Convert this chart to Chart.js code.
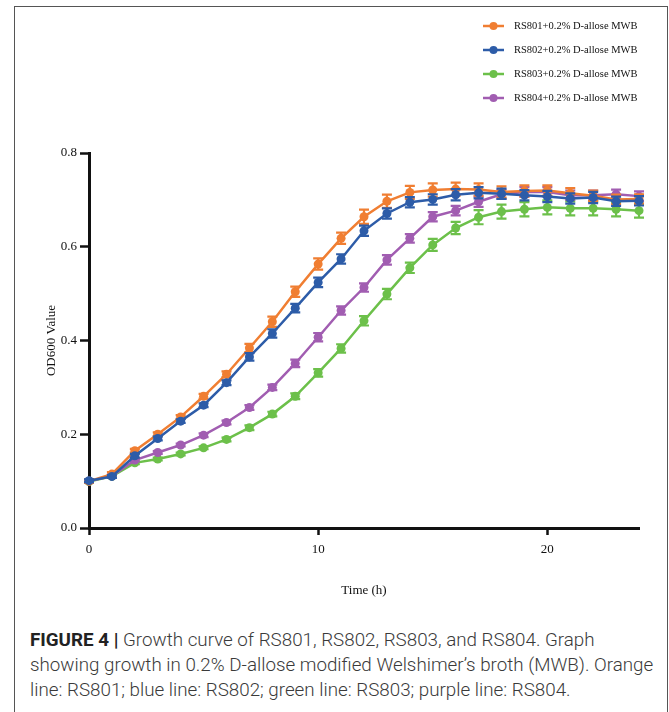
<!DOCTYPE html>
<html>
<head>
<meta charset="utf-8">
<script src="https://cdn.jsdelivr.net/npm/chart.js@4/dist/chart.umd.min.js"></script>
<style>
    html, body { margin: 0; padding: 0; background: #fff; width: 669px; height: 712px; overflow: hidden; }
    #frame {
        position: absolute; left: 14px; top: 6px; width: 654px; height: 720px;
        border: 1px solid #555; border-bottom: none; box-sizing: border-box;
    }
    #chartBox { position: absolute; left: 14px; top: 6px; width: 654px; height: 602px; }
    #caption {
        position: absolute; left: 30px; top: 628px;
        font-family: "Roboto", "Liberation Sans", sans-serif; font-size: 18.8px; font-weight: 300;
        line-height: 25px; color: #3a3a3a; white-space: nowrap;
    }
    #caption b { color: #222; font-weight: 700; }
</style>
</head>
<body>
<div id="frame"></div>
<div id="chartBox"><canvas id="growthChart" width="654" height="602"></canvas></div>
<div id="caption">
    <div><b>FIGURE 4 |</b> Growth curve of RS801, RS802, RS803, and RS804. Graph</div>
    <div>showing growth in 0.2% D-allose modified Welshimer’s broth (MWB). Orange</div>
    <div>line: RS801; blue line: RS802; green line: RS803; purple line: RS804.</div>
</div>
<script>
// Time points (h)
const hours = [0, 1, 2, 3, 4, 5, 6, 7, 8, 9, 10, 11, 12, 13, 14, 15, 16, 17, 18, 19, 20, 21, 22, 23, 24];
const xTicks = [0, 10, 20];
const yTicks = [0, 0.2, 0.4, 0.6, 0.8];

// OD600 mean values
const rs801 = [0.100, 0.115, 0.165, 0.200, 0.237, 0.281, 0.328, 0.384, 0.440, 0.504, 0.563, 0.618, 0.664,
               0.697, 0.716, 0.721, 0.723, 0.722, 0.717, 0.719, 0.720, 0.714, 0.709, 0.701, 0.702];
const rs802 = [0.101, 0.110, 0.154, 0.191, 0.228, 0.262, 0.310, 0.365, 0.415, 0.469, 0.524, 0.574, 0.634,
               0.671, 0.695, 0.701, 0.711, 0.715, 0.713, 0.710, 0.707, 0.703, 0.705, 0.697, 0.698];
const rs803 = [0.099, 0.110, 0.139, 0.147, 0.158, 0.171, 0.189, 0.214, 0.243, 0.281, 0.331, 0.383, 0.442,
               0.499, 0.555, 0.604, 0.640, 0.663, 0.675, 0.680, 0.684, 0.682, 0.682, 0.680, 0.677];
const rs804 = [0.100, 0.111, 0.145, 0.161, 0.177, 0.198, 0.225, 0.257, 0.300, 0.351, 0.407, 0.464, 0.513,
               0.572, 0.618, 0.664, 0.677, 0.696, 0.712, 0.717, 0.717, 0.710, 0.710, 0.712, 0.708];

// Error bar half-heights (SD)
const rs801Err = [0.003, 0.004, 0.004, 0.004, 0.004, 0.005, 0.006, 0.009, 0.011, 0.011, 0.012, 0.012, 0.015,
                  0.014, 0.014, 0.014, 0.014, 0.013, 0.012, 0.012, 0.011, 0.011, 0.011, 0.010, 0.010];
const rs802Err = [0.003, 0.003, 0.004, 0.004, 0.004, 0.004, 0.005, 0.008, 0.009, 0.009, 0.010, 0.010, 0.011,
                  0.011, 0.011, 0.011, 0.012, 0.012, 0.011, 0.011, 0.012, 0.011, 0.012, 0.010, 0.010];
const rs803Err = [0.003, 0.003, 0.003, 0.003, 0.003, 0.003, 0.004, 0.005, 0.005, 0.006, 0.008, 0.009, 0.010,
                  0.011, 0.011, 0.013, 0.013, 0.015, 0.015, 0.015, 0.015, 0.015, 0.015, 0.015, 0.015];
const rs804Err = [0.003, 0.003, 0.003, 0.003, 0.003, 0.004, 0.004, 0.005, 0.006, 0.008, 0.009, 0.009, 0.009,
                  0.010, 0.009, 0.010, 0.010, 0.011, 0.010, 0.010, 0.010, 0.010, 0.010, 0.010, 0.010];

const labels = ['RS801+0.2% D-allose MWB', 'RS802+0.2% D-allose MWB', 'RS803+0.2% D-allose MWB', 'RS804+0.2% D-allose MWB'];

const colors = {
    orange: '#F07E32',
    blue: '#2D5CA8',
    green: '#6CC04A',
    purple: '#A15DB1'
};

const serif = '"Liberation Serif", "Times New Roman", serif';

function makeDataset(label, values, errors, color, order) {
    return {
        label: label,
        data: hours.map((h, i) => ({ x: h, y: values[i] })),
        errors: errors,
        borderColor: color,
        backgroundColor: color,
        borderWidth: 2.5,
        pointRadius: 4.5,
        pointHoverRadius: 4.5,
        pointBorderWidth: 0,
        tension: 0,
        clip: false,
        order: order
    };
}

// Error bars drawn per dataset so the layering follows the lines
const errorBarPlugin = {
    id: 'errorBars',
    afterDatasetDraw(chart, args) {
        const ds = chart.data.datasets[args.index];
        if (!ds.errors) return;
        const { ctx, scales } = chart;
        ctx.save();
        ctx.strokeStyle = ds.borderColor;
        ctx.lineWidth = 2.2;
        ds.data.forEach((p, i) => {
            const x = scales.x.getPixelForValue(p.x);
            const yTop = scales.y.getPixelForValue(p.y + ds.errors[i]);
            const yBot = scales.y.getPixelForValue(p.y - ds.errors[i]);
            ctx.beginPath();
            ctx.moveTo(x, yTop); ctx.lineTo(x, yBot);
            ctx.moveTo(x - 5, yTop); ctx.lineTo(x + 5, yTop);
            ctx.moveTo(x - 5, yBot); ctx.lineTo(x + 5, yBot);
            ctx.stroke();
        });
        ctx.restore();
    }
};

// Legend stacked in the top-right corner, line with a dot for each series
const stackedLegendPlugin = {
    id: 'stackedLegend',
    afterDraw(chart) {
        const ctx = chart.ctx;
        const lineX = 469, lineW = 21, textX = 500, top = 20, step = 24;
        ctx.save();
        ctx.font = '10.5px ' + serif;
        ctx.textBaseline = 'middle';
        chart.data.datasets.forEach((ds, i) => {
            const y = top + i * step;
            ctx.strokeStyle = ds.borderColor;
            ctx.fillStyle = ds.borderColor;
            ctx.lineWidth = 2.5;
            ctx.beginPath();
            ctx.moveTo(lineX, y); ctx.lineTo(lineX + lineW, y);
            ctx.stroke();
            ctx.beginPath();
            ctx.arc(lineX + lineW / 2, y, 4, 0, Math.PI * 2);
            ctx.fill();
            ctx.fillStyle = '#111';
            ctx.fillText(ds.label, textX, y + 0.5);
        });
        ctx.restore();
    }
};

const growthChart = new Chart(document.getElementById('growthChart'), {
    type: 'line',
    data: {
        datasets: [
            makeDataset(labels[0], rs801, rs801Err, colors.orange, 1),
            makeDataset(labels[1], rs802, rs802Err, colors.blue, 0),
            makeDataset(labels[2], rs803, rs803Err, colors.green, 3),
            makeDataset(labels[3], rs804, rs804Err, colors.purple, 2)
        ]
    },
    options: {
        responsive: false,
        animation: false,
        layout: { padding: { top: 147, right: 29, bottom: 0, left: 0 } },
        plugins: {
            legend: { display: false },
            tooltip: { enabled: false }
        },
        scales: {
            x: {
                type: 'linear',
                min: 0,
                max: 24,
                afterBuildTicks: scale => { scale.ticks = xTicks.map(v => ({ value: v })); },
                afterFit: scale => { scale.height = 80; },
                grid: { display: true, drawOnChartArea: false, drawTicks: true, tickLength: 7, tickWidth: 2.5, color: '#111' },
                border: { display: true, width: 3, color: '#111' },
                ticks: { color: '#111', padding: 7, font: { family: serif, size: 13 } },
                title: {
                    display: true, text: 'Time (h)', color: '#111',
                    font: { family: serif, size: 13 }, padding: { top: 0, bottom: 10 }
                }
            },
            y: {
                type: 'linear',
                min: 0,
                max: 0.8,
                afterBuildTicks: scale => { scale.ticks = yTicks.map(v => ({ value: v })); },
                afterFit: scale => { scale.width = 75; },
                grid: { display: true, drawOnChartArea: false, drawTicks: true, tickLength: 9, tickWidth: 2.5, color: '#111' },
                border: { display: true, width: 3, color: '#111' },
                ticks: {
                    color: '#111', padding: 3, font: { family: serif, size: 13 },
                    callback: v => v.toFixed(1)
                },
                title: {
                    display: true, text: 'OD600 Value', color: '#111',
                    font: { family: serif, size: 13 }, padding: { top: 30, bottom: 0 }
                }
            }
        }
    },
    plugins: [errorBarPlugin, stackedLegendPlugin]
});
</script>
</body>
</html>
